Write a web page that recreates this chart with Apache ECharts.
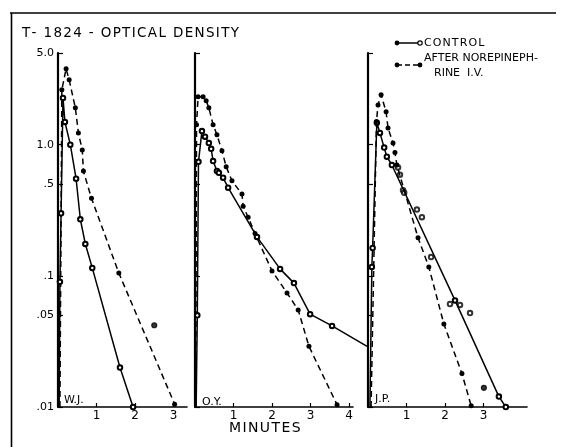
<!DOCTYPE html>
<html><head><meta charset="utf-8">
<script src="https://cdn.jsdelivr.net/npm/echarts@6/dist/echarts.min.js"></script>
<style>html,body{margin:0;padding:0;background:#fff}#c{width:565px;height:447px}</style>
</head><body><div id="c"></div>
<script>
// ---- data (minutes, optical density) ----
const panelNames = ['W.J.', 'O.Y.', 'J.P.'];
const yTickValues = [0.01, 0.05, 0.1, 0.5, 1, 5];
const yTickLabels = ['.01', '.05', '.1', '.5', '1.0', '5.0'];
const xTicks1 = [1, 2, 3];
const xTicks2 = [1, 2, 3, 4];
const xTicks3 = [1, 2, 3];

const wjControl = [[0.03,0.01],[0.05,0.09],[0.08,0.30],[0.13,2.27],[0.18,1.49],[0.32,1.0],[0.47,0.55],[0.58,0.27],[0.71,0.175],[0.89,0.115],[1.61,0.020],[1.95,0.01]];
const wjAfter = [[0.05,0.01],[0.10,2.62],[0.21,3.79],[0.29,3.12],[0.45,1.91],[0.53,1.23],[0.63,0.91],[0.66,0.63],[0.87,0.39],[1.58,0.105],[3.03,0.0105]];
const wjAfterExtra = [[2.5,0.042]];

const oyControl = [[0.03,0.01],[0.06,0.050],[0.09,0.74],[0.18,1.27],[0.26,1.15],[0.36,1.03],[0.42,0.93],[0.47,0.75],[0.57,0.63],[0.62,0.61],[0.73,0.56],[0.86,0.47],[1.61,0.198],[2.21,0.113],[2.57,0.088],[2.99,0.051],[3.56,0.0415],[4.47,0.029]];
const oyAfter = [[0.02,0.01],[0.04,1.42],[0.08,2.32],[0.21,2.32],[0.29,2.16],[0.36,1.91],[0.47,1.42],[0.57,1.19],[0.70,0.90],[0.81,0.68],[0.96,0.53],[1.22,0.42],[1.25,0.34],[1.38,0.28],[1.56,0.21],[2.0,0.109],[2.39,0.074],[2.68,0.055],[2.96,0.029],[3.69,0.0104]];

const jpControl = [[0.05,0.01],[0.10,0.117],[0.12,0.163],[0.23,1.47],[0.31,1.23],[0.42,0.95],[0.49,0.81],[0.62,0.70],[2.26,0.065],[3.40,0.012],[3.58,0.01]];
const jpControlExtra = [[0.78,0.67],[0.83,0.59],[0.91,0.45],[0.94,0.43],[1.27,0.32],[1.40,0.28],[1.64,0.139],[2.13,0.061],[2.39,0.060],[2.65,0.052]];
const jpControlFilled = [[3.01,0.014]];
const jpAfter = [[0.08,0.01],[0.22,1.5],[0.26,2.01],[0.34,2.40],[0.47,1.78],[0.52,1.34],[0.65,1.03],[0.70,0.87],[0.75,0.70],[1.30,0.195],[1.58,0.117],[1.97,0.043],[2.44,0.018],[2.68,0.0102]];

// ---- chart ----
const FONT = 'DejaVu Sans';
const PX_PER_MIN = 38.5;
const grids = [
  {left: 58, top: 53, width: 129, height: 354},
  {left: 195, top: 53, width: 158, height: 354},
  {left: 368, top: 53, width: 159, height: 354},
  // overflow grid for O.Y. control line that runs past its own axis
  {left: 195, top: 53, width: 177, height: 354}
];
const xMax = grids.map(g => g.width / PX_PER_MIN);
const xTickSets = [xTicks1, xTicks2, xTicks3, []];

function labelFor(v){
  let best = 0, bd = Infinity;
  yTickValues.forEach((t,i)=>{const d=Math.abs(Math.log10(t)-Math.log10(v)); if(d<bd){bd=d;best=i;}});
  return yTickLabels[best];
}

const xAxes = grids.map((g,i)=>({
  type:'value', gridIndex:i, min:0, max:xMax[i], show: i<3,
  axisLine:{show:true, lineStyle:{color:'#000', width:1.6}},
  axisTick:{show:true, inside:true, length:4, customValues:xTickSets[i], lineStyle:{color:'#000', width:1.2}},
  axisLabel:{show:true, customValues:xTickSets[i], color:'#000', fontFamily:FONT, fontSize:12, margin:3},
  splitLine:{show:false}
}));
const yAxes = grids.map((g,i)=>({
  type:'log', logBase:10, gridIndex:i, min:0.01, max:5, show: i<3,
  axisLine:{show:true, lineStyle:{color:'#000', width:2.2}},
  axisTick:{show:true, inside:true, length:5, customValues:yTickValues, lineStyle:{color:'#000', width:1.2}},
  axisLabel:{show:i===0, customValues:yTickValues, color:'#000', fontFamily:FONT, fontSize:11, margin:4,
    formatter:(v)=>labelFor(v)},
  splitLine:{show:false}
}));

// no marker where a curve starts on the baseline or runs off past the next panel's axis
function symFn(value){ return ((value[1] <= 0.0101 && value[0] < 0.2) || value[0] > 4.2) ? 'none' : 'circle'; }

function controlLine(data, i){
  return {type:'line', xAxisIndex:i, yAxisIndex:i, data:data,
    symbol: (v)=> symFn(v)==='none' ? 'none' : 'emptyCircle', symbolSize:4.5,
    lineStyle:{color:'#000', width:1.5}, itemStyle:{color:'#000', borderColor:'#000', borderWidth:1.2},
    animation:false, silent:true};
}
function afterLine(data, i){
  return {type:'line', xAxisIndex:i, yAxisIndex:i, data:data,
    symbol: symFn, symbolSize:5,
    lineStyle:{color:'#000', width:1.5, type:[6,4]}, itemStyle:{color:'#000'},
    animation:false, silent:true};
}
function scatter(data, i, empty){
  return {type:'scatter', xAxisIndex:i, yAxisIndex:i, data:data,
    symbol: empty ? 'emptyCircle' : 'circle', symbolSize: empty?4.5:5,
    itemStyle:{color:'#000', borderColor:'#000', borderWidth:1.2}, animation:false, silent:true};
}

const series = [
  controlLine(wjControl,0), afterLine(wjAfter,0), scatter(wjAfterExtra,0,false),
  controlLine(oyControl,3), afterLine(oyAfter,1),
  controlLine(jpControl,2), scatter(jpControlExtra,2,true), scatter(jpControlFilled,2,false), afterLine(jpAfter,2)
];

const HS = '\u200A';
const spaced = s => s.split('').join(HS);
const txt = (x,y,text,size,extra)=>Object.assign({type:'text', x:x, y:y,
  style:{text:text, fill:'#000', font:(size||11)+'px "'+FONT+'"', textVerticalAlign:'middle'}}, extra||{});

const graphic = [
  {type:'line', shape:{x1:10, y1:13, x2:556, y2:13}, style:{stroke:'#000', lineWidth:1.6}},
  {type:'line', shape:{x1:11.5, y1:13, x2:11.5, y2:447}, style:{stroke:'#000', lineWidth:1.6}},
  txt(22, 33, spaced('T- 1824 - OPTICAL DENSITY'), 13.5),
  // legend
  {type:'line', shape:{x1:397, y1:43, x2:420, y2:43}, style:{stroke:'#000', lineWidth:1.5}},
  {type:'circle', shape:{cx:397, cy:43, r:2.4}, style:{fill:'#000'}},
  {type:'circle', shape:{cx:420, cy:43, r:2.2}, style:{fill:'#fff', stroke:'#000', lineWidth:1.2}},
  txt(424, 43, spaced('CONTROL'), 11),
  {type:'line', shape:{x1:397, y1:65, x2:420, y2:65}, style:{stroke:'#000', lineWidth:1.5, lineDash:[5,3]}},
  {type:'circle', shape:{cx:397, cy:65, r:2.4}, style:{fill:'#000'}},
  {type:'circle', shape:{cx:420, cy:65, r:2.4}, style:{fill:'#000'}},
  txt(424, 58, 'AFTER NOREPINEPH-', 11),
  txt(434, 73, 'RINE  I.V.', 11),
  // panel labels
  txt(64, 400, panelNames[0], 11),
  txt(202, 402, panelNames[1], 11),
  txt(375, 399, panelNames[2], 11),
  txt(229, 428, spaced('MINUTES'), 14)
];

const chart = echarts.init(document.getElementById('c'), null, {renderer:'canvas'});
chart.setOption({
  animation:false,
  backgroundColor:'#fff',
  grid: grids,
  xAxis: xAxes,
  yAxis: yAxes,
  series: series,
  graphic: graphic
});
</script>
</body></html>
